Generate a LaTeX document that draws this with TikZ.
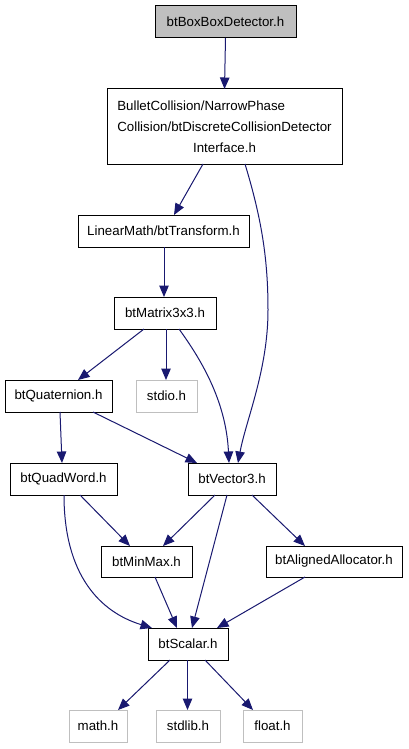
\documentclass[tikz,border=0pt]{standalone}
\usepackage{fontspec}
\setmainfont{Liberation Sans}
\usetikzlibrary{arrows.meta}
\definecolor{edgeblue}{HTML}{191970}
\definecolor{lightgrey}{HTML}{BFBFBF}
\begin{document}
\begin{tikzpicture}[x=1pt,y=-1pt,
  every node/.style={font=\fontsize{13.3}{21}\selectfont, inner sep=0pt, outer sep=0pt},
  filebox/.style={draw=black, line width=1pt, fill=white, minimum height=32pt},
  sysbox/.style={draw=lightgrey, line width=1pt, fill=white, minimum height=32pt},
  dep/.style={draw=edgeblue, line width=1pt, -{Triangle[length=11.5pt,width=9.5pt]}}]
\useasboundingbox (0,0) rectangle (408,749);
\fill[white] (0,0) rectangle (408,749);

\node[filebox, fill=lightgrey, minimum width=141pt] (top) at (225.5,22) {btBoxBoxDetector.h};
\node[filebox, minimum width=235pt, minimum height=75pt, align=center] (bullet) at (224.5,126.5)
  {\rlap{BulletCollision/NarrowPhase}\phantom{Collision/btDiscreteCollisionDetector}\\Collision/btDiscreteCollisionDetector\\Interface.h};
\node[filebox, minimum width=171pt] (transform) at (163.5,231) {LinearMath/btTransform.h};
\node[filebox, minimum width=102pt] (matrix) at (165,313) {btMatrix3x3.h};
\node[filebox, minimum width=107pt] (quat) at (58.5,396) {btQuaternion.h};
\node[sysbox, minimum width=61pt] (stdio) at (166.5,396) {stdio.h};
\node[filebox, minimum width=107pt] (quad) at (63.5,479) {btQuadWord.h};
\node[filebox, minimum width=88pt] (vec) at (232,479) {btVector3.h};
\node[filebox, minimum width=91pt, minimum height=31pt] (minmax) at (146.5,561.5) {btMinMax.h};
\node[filebox, minimum width=136pt, minimum height=31pt] (aligned) at (334,561.5) {btAlignedAllocator.h};
\node[filebox, minimum width=80pt] (scalar) at (188,644) {btScalar.h};
\node[sysbox, minimum width=58pt] (math) at (98,726) {math.h};
\node[sysbox, minimum width=64pt] (stdlib) at (188,726) {stdlib.h};
\node[sysbox, minimum width=59pt] (float) at (272.5,726) {float.h};

\draw[dep] (top.south) -- (bullet.north);
\draw[dep] ([xshift=-21.5]bullet.south) -- ([xshift=10.5]transform.north);
\draw[dep] ([xshift=20.5]bullet.south) .. controls (262,220) and (268,260) .. (268,310)
  .. controls (268,370) and (246,420) .. ([xshift=6]vec.north);
\draw[dep] ([xshift=0.5]transform.south) -- ([xshift=-1]matrix.north);
\draw[dep] ([xshift=-21]matrix.south) -- ([xshift=19.5]quat.north);
\draw[dep] ([xshift=1]matrix.south) -- ([xshift=-0.5]stdio.north);
\draw[dep] ([xshift=14]matrix.south) .. controls (200,358) and (226,400) .. ([xshift=-3]vec.north);
\draw[dep] ([xshift=1.5]quat.south) -- ([xshift=-1.5]quad.north);
\draw[dep] ([xshift=34.5]quat.south) -- ([xshift=-35]vec.north);
\draw[dep] ([xshift=16.5]quad.south) -- ([xshift=-16.5]minmax.north);
\draw[dep] ([xshift=0.5]quad.south) .. controls (64,575) and (100,612) .. ([xshift=-36]scalar.north);
\draw[dep] ([xshift=-17]vec.south) -- ([xshift=16.5]minmax.north);
\draw[dep] ([xshift=-5]vec.south) -- ([xshift=4]scalar.north);
\draw[dep] ([xshift=20]vec.south) -- ([xshift=-29]aligned.north);
\draw[dep] ([xshift=8.5]minmax.south) -- ([xshift=-11]scalar.north);
\draw[dep] ([xshift=-29]aligned.south) -- ([xshift=29]scalar.north);
\draw[dep] ([xshift=-18]scalar.south) -- ([xshift=20]math.north);
\draw[dep] ([xshift=-0.5]scalar.south) -- ([xshift=-0.5]stdlib.north);
\draw[dep] ([xshift=17]scalar.south) -- ([xshift=-19.5]float.north);
\end{tikzpicture}
\end{document}
